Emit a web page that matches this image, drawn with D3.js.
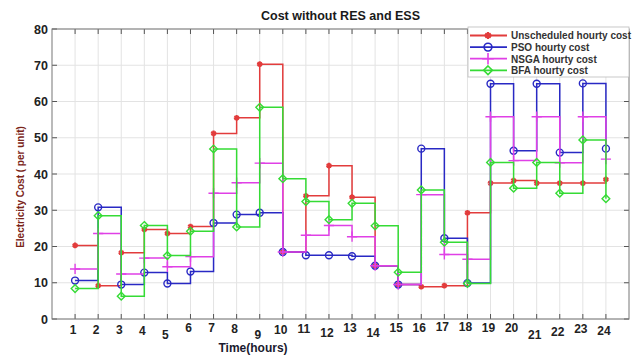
<!DOCTYPE html>
<html>
<head>
<meta charset="utf-8">
<script src="https://cdn.jsdelivr.net/npm/d3@7"></script>
<style>
  body { margin: 0; background: #fff; }
  svg { display: block; font-family: "Liberation Sans", Arial, sans-serif; }
</style>
</head>
<body>
<div id="chart"></div>
<script>
// hours on the x axis
const hours = d3.range(1, 25);

// hourly cost series
const unscheduled = [20.3, 9.2, 18.3, 24.7, 23.6, 25.5, 51.2, 55.5, 70.3, 18.5, 34.0, 42.3,
                     33.6, 14.7, 9.5, 8.9, 9.2, 29.3, 37.5, 38.2, 37.5, 37.5, 37.5, 38.5];
const pso = [10.6, 30.8, 9.5, 12.8, 9.8, 13.1, 26.5, 28.8, 29.3, 18.5, 17.6, 17.6,
             17.3, 14.7, 9.5, 47.0, 22.3, 9.9, 64.9, 46.4, 64.9, 45.9, 65.0, 47.0];
const nsga = [13.8, 23.6, 12.4, 16.8, 14.4, 17.2, 34.7, 37.6, 43.0, 18.5, 23.1, 25.8,
              22.7, 14.7, 9.5, 34.3, 17.8, 16.5, 55.8, 43.7, 55.8, 43.1, 55.8, 44.1];
const bfa = [8.4, 28.5, 6.3, 25.8, 17.5, 24.2, 46.9, 25.4, 58.4, 38.7, 32.4, 27.4,
             31.9, 25.7, 12.9, 35.6, 21.2, 9.8, 43.2, 36.1, 43.2, 34.7, 49.4, 33.2];

const seriesNames = ["Unscheduled hourty cost", "PSO hourty cost", "NSGA hourty cost", "BFA hourty cost"];
const yTicks = [0, 10, 20, 30, 40, 50, 60, 70, 80];
// small vertical shifts of the hour labels, as in the original figure
const xLabelShift = [0, 0, 0, 1, 5, -2, -2, -1, 5, 0, -1, 3, -2, 3, -2, -2, -3, -3, -2, -2, 5, 2, -1, 1];

const width = 642, height = 356;
const margin = { left: 52, right: 13, top: 29, bottom: 37 };

const svg = d3.select("#chart").append("svg")
    .attr("width", width)
    .attr("height", height);

const x = d3.scaleLinear().domain([0, 25]).range([margin.left, width - margin.right]);
const y = d3.scaleLinear().domain([0, 80]).range([height - margin.bottom, margin.top]);

// grid
const grid = svg.append("g").attr("stroke", "#e3e3e3").attr("stroke-width", 1);
grid.selectAll(".vx").data(hours).enter().append("line")
    .attr("x1", d => x(d)).attr("x2", d => x(d))
    .attr("y1", y(0)).attr("y2", y(80));
grid.selectAll(".hy").data(yTicks).enter().append("line")
    .attr("x1", x(0)).attr("x2", x(25))
    .attr("y1", d => y(d)).attr("y2", d => y(d));

// inner tick marks (MATLAB style)
const ticks = svg.append("g").attr("stroke", "#555").attr("stroke-width", 1);
hours.forEach(h => {
    ticks.append("line").attr("x1", x(h)).attr("x2", x(h)).attr("y1", y(0)).attr("y2", y(0) - 5);
    ticks.append("line").attr("x1", x(h)).attr("x2", x(h)).attr("y1", y(80)).attr("y2", y(80) + 5);
});
yTicks.forEach(v => {
    ticks.append("line").attr("x1", x(0)).attr("x2", x(0) + 5).attr("y1", y(v)).attr("y2", y(v));
    ticks.append("line").attr("x1", x(25)).attr("x2", x(25) - 5).attr("y1", y(v)).attr("y2", y(v));
});

// box
svg.append("rect")
    .attr("x", x(0)).attr("y", y(80))
    .attr("width", x(25) - x(0)).attr("height", y(0) - y(80))
    .attr("fill", "none").attr("stroke", "#777").attr("stroke-width", 1);

// tick labels
svg.append("g").selectAll("text").data(yTicks).enter().append("text")
    .attr("x", x(0) - 4).attr("y", d => y(d) + 4.5)
    .attr("text-anchor", "end")
    .attr("font-size", "12.5px").attr("font-weight", "bold").attr("fill", "#222")
    .text(d => d);

svg.append("g").selectAll("text").data(hours).enter().append("text")
    .attr("x", d => x(d) - 2).attr("y", (d, i) => y(0) + 15 + xLabelShift[i])
    .attr("text-anchor", "middle")
    .attr("font-size", "12px").attr("font-weight", "bold").attr("fill", "#222")
    .text(d => d);

// titles
svg.append("text")
    .attr("x", (x(0) + x(25)) / 2).attr("y", 20)
    .attr("text-anchor", "middle")
    .attr("font-size", "12.5px").attr("font-weight", "bold").attr("fill", "#1a1a1a")
    .text("Cost without RES and ESS");

svg.append("text")
    .attr("x", 253).attr("y", 352)
    .attr("text-anchor", "middle")
    .attr("font-size", "12px").attr("font-weight", "bold").attr("fill", "#1a1a2e")
    .text("Time(hours)");

svg.append("text")
    .attr("transform", "translate(24," + 187 + ") rotate(-90)")
    .attr("text-anchor", "middle")
    .attr("font-size", "10px").attr("font-weight", "bold").attr("fill", "#7a2418")
    .text("Electricity Cost ( per unit)");

// series
const series = [
    { name: seriesNames[0], values: unscheduled, color: "#e23c3c", symbol: d3.symbolAsterisk, size: 22, fill: "#e23c3c" },
    { name: seriesNames[1], values: pso, color: "#2929c4", symbol: d3.symbolCircle, size: 38, fill: "none" },
    { name: seriesNames[2], values: nsga, color: "#e040e6", symbol: d3.symbolPlus, size: 36, fill: "none" },
    { name: seriesNames[3], values: bfa, color: "#35db35", symbol: d3.symbolDiamond2, size: 38, fill: "none" }
];

const line = d3.line()
    .x((d, i) => x(hours[i]))
    .y(d => y(d))
    .curve(d3.curveStepAfter);

series.forEach(s => {
    const g = svg.append("g");
    g.append("path")
        .attr("d", line(s.values))
        .attr("fill", "none")
        .attr("stroke", s.color)
        .attr("stroke-width", 1.5);
    g.selectAll("path.m").data(s.values).enter().append("path")
        .attr("class", "m")
        .attr("transform", (d, i) => `translate(${x(hours[i])},${y(d)})`)
        .attr("d", d3.symbol().type(s.symbol).size(s.size))
        .attr("fill", s.fill)
        .attr("stroke", s.color)
        .attr("stroke-width", s.symbol === d3.symbolAsterisk ? 2.2 : 1.4);
});

// legend
const lg = svg.append("g");
lg.append("rect")
    .attr("x", 468).attr("y", 27)
    .attr("width", x(25) - 468).attr("height", 50)
    .attr("fill", "#fff").attr("stroke", "#bbb").attr("stroke-width", 0.8);
series.forEach((s, i) => {
    const ly = 35.5 + i * 11.6;
    lg.append("line")
        .attr("x1", 470).attr("x2", 507).attr("y1", ly).attr("y2", ly)
        .attr("stroke", s.color).attr("stroke-width", 1.8);
    lg.append("path")
        .attr("transform", `translate(488,${ly})`)
        .attr("d", d3.symbol().type(s.symbol).size(s.size + 10))
        .attr("fill", s.fill).attr("stroke", s.color)
        .attr("stroke-width", s.symbol === d3.symbolAsterisk ? 2.4 : 1.6);
    lg.append("text")
        .attr("x", 511).attr("y", ly + 3.8)
        .attr("font-size", "10px").attr("font-weight", "bold").attr("fill", "#333")
        .text(s.name);
});
</script>
</body>
</html>
